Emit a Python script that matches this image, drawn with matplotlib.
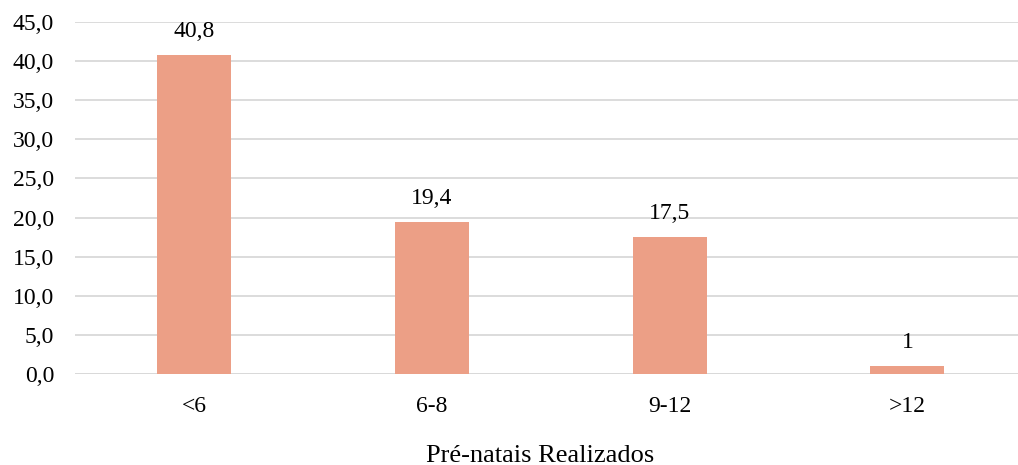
import matplotlib
matplotlib.use("Agg")
import matplotlib.pyplot as plt

categories = ["<6", "6-8", "9-12", ">12"]
values = [40.8, 19.4, 17.5, 1]
value_labels = ["40,8", "19,4", "17,5", "1"]
yticks = [0, 5, 10, 15, 20, 25, 30, 35, 40, 45]
ytick_labels = ["0,0", "5,0", "10,0", "15,0", "20,0", "25,0", "30,0", "35,0", "40,0", "45,0"]
xlabel = "Pré-natais Realizados"

plt.rcParams["font.family"] = ["Liberation Serif", "DejaVu Serif"]

fig = plt.figure(figsize=(10.18, 4.65), dpi=100)
ax = fig.add_axes([75 / 1018, 91 / 465, 943 / 1018, 352 / 465])

x = list(range(len(categories)))
bars = ax.bar(x, values, width=0.311, color="#EC9F86", zorder=3)
for xi, v, lab in zip(x, values, value_labels):
    ax.annotate(lab, (xi, v), xytext=(0, 9.5), textcoords="offset points",
                ha="center", va="bottom", fontsize=17, color="#000000")

ax.set_ylim(0, 45)
ax.set_xlim(-0.5, 3.465)
ax.set_yticks(yticks)
ax.set_yticklabels(ytick_labels)
ax.set_xticks(x)
ax.set_xticklabels(categories)
ax.tick_params(axis="both", length=0, labelsize=17, colors="#000000")
ax.tick_params(axis="y", pad=15)
ax.tick_params(axis="x", pad=16)
ax.grid(axis="y", color="#D9D9D9", linewidth=1.3, zorder=0)
for s in ax.spines.values():
    s.set_visible(False)
ax.axhline(0, color="#D9D9D9", linewidth=1.3, zorder=2)

fig.text(540 / 1018, 1 - 456 / 465, xlabel, ha="center", va="center", fontsize=19)

fig.savefig("out.png", dpi=100)
